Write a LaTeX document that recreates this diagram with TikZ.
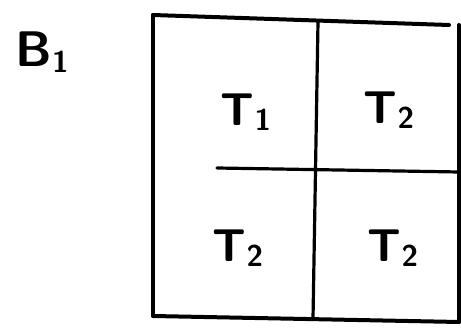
\documentclass[tikz,border=0pt]{standalone}
\usepackage{tikz}
\usetikzlibrary{positioning}
\tikzset{
  edge/.style ={line width=4pt,black,line cap=round},
  inner/.style={line width=3.2pt,black,line cap=round},
  cell/.style ={font=\fontsize{46}{50}\selectfont\sffamily\bfseries,inner sep=0pt},
  tag/.style  ={font=\fontsize{50}{54}\selectfont\sffamily\bfseries,inner sep=0pt},
}
\newcommand{\lowidx}[1]{\raisebox{-0.12em}{\fontsize{30}{32}\selectfont #1}}
\begin{document}
\begin{tikzpicture}[x=1pt,y=-1pt]
\useasboundingbox (0,0) rectangle (461,328);
% corners of the frame
\coordinate (tl) at (153,15);
\coordinate (tr) at (449,25);
\coordinate (rt) at (459,25);
\coordinate (br) at (459,322);
\coordinate (bl) at (153,316);
% dividers
\coordinate (vt) at (318,22);
\coordinate (vb) at (313,319);
\coordinate (hl) at (217,168);
\coordinate (hr) at (459,172);

% outer frame
\draw[edge] (tl) -- (tr);
\draw[edge] (rt) -- (br);
\draw[edge] (bl) -- (br);
\draw[edge] (tl) -- (bl);
% inner lines
\draw[inner] (vt) -- (vb);
\draw[inner] (hl) -- (hr);

% labels
\node[tag] (b1) at (42,52) {B\lowidx{1}};
\node[cell] (c11) at (246,112) {T\lowidx{1}};
\node[cell] (c12) at (389,110) {T\lowidx{2}};
\node[cell] (c21) at (238,248) {T\lowidx{2}};
\node[cell] (c22) at (393,248) {T\lowidx{2}};
\end{tikzpicture}
\end{document}
